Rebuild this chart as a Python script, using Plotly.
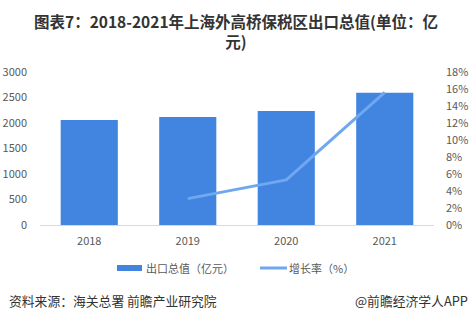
import plotly.graph_objects as go

years = ["2018", "2019", "2020", "2021"]
export_value = [2059, 2118, 2235, 2594]
growth_rate = [None, 3.1, 5.3, 15.6]
left_ticks = [0, 500, 1000, 1500, 2000, 2500, 3000]
right_ticks = [0, 2, 4, 6, 8, 10, 12, 14, 16, 18]
right_tick_text = [f"{v}%" for v in right_ticks]

FONT = "Noto Sans CJK SC, Microsoft YaHei, sans-serif"
BAR_COLOR = "#4285E0"
LINE_COLOR = "#6FA8F0"
TICK_COLOR = "#595959"

fig = go.Figure()
fig.add_trace(go.Bar(x=years, y=export_value, name="出口总值（亿元）",
                     marker=dict(color=BAR_COLOR, line=dict(width=0)),
                     yaxis="y", showlegend=False))
fig.add_trace(go.Scatter(x=years, y=growth_rate, name="增长率（%）", mode="lines",
                         line=dict(color=LINE_COLOR, width=3),
                         yaxis="y2", showlegend=False, connectgaps=False))

W, H = 472, 321
L, R, T, B = 40, 38, 72, 96
pw, ph = W - L - R, H - T - B

def px(x):
    return (x - L) / pw

def py(y):
    return (H - B - y) / ph

fig.update_layout(
    width=W, height=H,
    margin=dict(l=L, r=R, t=T, b=B, pad=0, autoexpand=False),
    paper_bgcolor="white", plot_bgcolor="white",
    bargap=0.42,
    font=dict(family=FONT, size=11, color=TICK_COLOR),
    xaxis=dict(showline=True, linecolor="#D9D9D9", linewidth=1, ticks="",
               showgrid=False, tickfont=dict(size=11, color=TICK_COLOR),
               ticklabelstandoff=6, automargin=False),
    yaxis=dict(range=[0, 3000], tickvals=left_ticks, showgrid=False, zeroline=False,
               showline=False, ticks="", tickfont=dict(size=11, color=TICK_COLOR),
               ticklabelstandoff=12, automargin=False),
    yaxis2=dict(range=[0, 18], tickvals=right_ticks, ticktext=right_tick_text,
                overlaying="y", side="right", showgrid=False, zeroline=False,
                showline=False, ticks="", tickfont=dict(size=11, color=TICK_COLOR),
                ticklabelstandoff=11, automargin=False),
    showlegend=False,
)

annotations = [
    dict(text="<b>图表7：2018-2021年上海外高桥保税区出口总值(单位：亿<br>元)</b>",
         x=(236 - L) / pw, y=py(31), xanchor="center", yanchor="middle",
         font=dict(size=15.5, color="#333333", family=FONT)),
    dict(text="出口总值（亿元）", x=px(144), y=py(268), xanchor="left", yanchor="middle",
         font=dict(size=11, color=TICK_COLOR, family=FONT)),
    dict(text="增长率（%）", x=px(287), y=py(268), xanchor="left", yanchor="middle",
         font=dict(size=11, color=TICK_COLOR, family=FONT)),
    dict(text="资料来源：海关总署 前瞻产业研究院", x=px(7), y=py(300), xanchor="left",
         yanchor="middle", font=dict(size=12.8, color="#333333", family=FONT)),
    dict(text="@前瞻经济学人APP", x=px(470), y=py(300), xanchor="right",
         yanchor="middle", font=dict(size=12.8, color="#333333", family=FONT)),
]
for a in annotations:
    a.update(xref="paper", yref="paper", showarrow=False)
fig.update_layout(annotations=annotations)

fig.update_layout(shapes=[
    dict(type="rect", xref="paper", yref="paper", x0=px(117), x1=px(142),
         y0=py(271), y1=py(265), fillcolor=BAR_COLOR, line=dict(width=0)),
    dict(type="line", xref="paper", yref="paper", x0=px(260), x1=px(287),
         y0=py(268), y1=py(268), line=dict(color=LINE_COLOR, width=3)),
])

fig.write_html("out.html")
